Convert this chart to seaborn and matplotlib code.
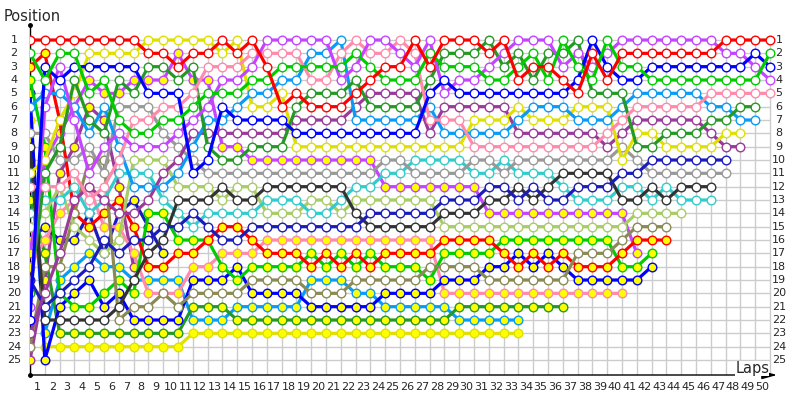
import matplotlib
matplotlib.use("Agg")
import matplotlib.pyplot as plt
import seaborn as sns
import pandas as pd

sns.set_style("white")
plt.rcParams['font.family'] = ['DejaVu Sans']

# race position of each car at every lap (index 0 = starting grid)
red_w = [1, 1, 1, 1, 1, 1, 1, 1, 2, 2, 3,
         2, 2, 1, 2, 1, 3, 6, 5, 6, 6,
         6, 5, 4, 3, 3, 1, 3, 1, 1, 1,
         2, 1, 4, 3, 3, 4, 5, 2, 4, 2,
         2, 2, 2, 2, 2, 2, 1, 1, 1, 1]
lime_w = [2, 4, 2, 2, 5, 4, 7, 8, 8, 7, 7,
          6, 5, 5, 5, 4, 4, 3, 3, 3, 3,
          3, 2, 3, 4, 4, 4, 2, 3, 3, 3,
          4, 4, 3, 2, 4, 1, 3, 4, 1, 3,
          3, 4, 4, 4, 4, 4, 4, 4, 4, 2]
blue_w = [22, 3, 4, 3, 3, 3, 3, 3, 5, 5, 5,
          11, 10, 6, 7, 7, 7, 7, 8, 8, 8,
          8, 8, 8, 8, 8, 8, 5, 4, 5, 5,
          5, 5, 5, 5, 5, 5, 4, 1, 3, 4,
          4, 3, 3, 3, 3, 3, 3, 3, 2, 3]
violet_w = [21, 6, 3, 7, 11, 9, 8, 9, 9, 9, 8,
            7, 6, 4, 4, 3, 1, 1, 1, 1, 1,
            4, 3, 1, 1, 2, 3, 1, 5, 4, 4,
            3, 2, 1, 1, 1, 3, 2, 3, 2, 1,
            1, 1, 1, 1, 1, 1, 2, 2, 3, 4]
pink_w = [12, 12, 12, 11, 13, 12, 10, 7, 7, 6, 6,
          5, 3, 3, 3, 2, 2, 2, 2, 4, 4,
          2, 1, 2, 2, 1, 2, 7, 7, 7, 9,
          9, 9, 9, 9, 9, 9, 9, 9, 8, 7,
          6, 6, 6, 6, 6, 5, 5, 5, 5, 5]
fgreen_w = [20, 11, 9, 4, 7, 8, 4, 5, 3, 3, 4,
            3, 9, 10, 10, 9, 9, 9, 6, 5, 5,
            5, 4, 6, 6, 6, 6, 4, 2, 2, 2,
            1, 3, 2, 4, 2, 2, 1, 5, 5, 5,
            9, 9, 8, 8, 8, 7, 7, 6, 6]
sky_w = [6, 5, 5, 6, 8, 6, 9, 12, 12, 12, 11,
         9, 7, 7, 6, 5, 5, 4, 4, 2, 2,
         1, 7, 7, 7, 7, 7, 6, 8, 8, 8,
         8, 8, 7, 6, 6, 6, 7, 7, 7, 6,
         5, 5, 5, 5, 5, 6, 6, 7, 7]
yellow_w = [11, 10, 7, 5, 2, 2, 2, 2, 1, 1, 1,
            1, 1, 2, 1, 6, 6, 5, 9, 9, 9,
            9, 9, 9, 9, 9, 9, 9, 9, 9, 7,
            7, 7, 6, 7, 7, 7, 6, 6, 6, 10,
            8, 8, 9, 9, 9, 9, 8, 8]
purple_w = [23, 20, 17, 13, 12, 13, 14, 14, 13, 11, 10,
            8, 8, 8, 8, 8, 8, 8, 7, 7, 7,
            7, 6, 5, 5, 5, 5, 8, 6, 6, 6,
            6, 6, 8, 8, 8, 8, 8, 8, 9, 8,
            7, 7, 7, 7, 7, 8, 9, 9]
navy_w = [19, 21, 20, 19, 18, 16, 17, 16, 16, 15, 15,
          14, 15, 16, 16, 15, 15, 15, 15, 15, 15,
          15, 15, 14, 14, 14, 14, 14, 13, 13, 13,
          12, 12, 13, 12, 13, 13, 12, 12, 12, 11,
          11, 10, 10, 10, 10, 10, 10]
gray_w = [8, 8, 10, 10, 9, 11, 6, 6, 6, 8, 9,
          10, 11, 11, 11, 11, 11, 11, 11, 11, 11,
          11, 11, 11, 10, 10, 11, 11, 11, 11, 10,
          10, 11, 10, 10, 10, 10, 10, 10, 10, 9,
          10, 11, 11, 11, 11, 11, 11]
dark_w = [9, 22, 22, 22, 22, 22, 21, 19, 17, 16, 13,
          13, 13, 12, 13, 13, 12, 12, 12, 12, 12,
          12, 14, 15, 15, 15, 15, 15, 14, 14, 14,
          13, 13, 12, 13, 12, 11, 11, 11, 11, 13,
          13, 12, 13, 12, 12, 12]
cyan_w = [14, 13, 13, 12, 14, 13, 11, 11, 11, 13, 14,
          15, 14, 14, 14, 14, 13, 13, 13, 14, 14,
          13, 12, 12, 11, 11, 10, 10, 10, 10, 11,
          11, 10, 11, 11, 11, 12, 13, 13, 13, 12,
          12, 13, 12, 13, 13, 13]
lgreen_w = [15, 14, 12, 15, 16, 17, 16, 10, 10, 10, 12,
            12, 12, 13, 12, 12, 14, 14, 14, 13, 13,
            14, 13, 13, 13, 13, 13, 13, 15, 15, 15,
            15, 15, 15, 15, 15, 15, 15, 15, 15, 15,
            14, 14, 14, 14]
olive_w = [24, 18, 18, 14, 10, 10, 22, 21, 21, 20, 21,
           20, 20, 20, 20, 19, 19, 19, 19, 20, 20,
           20, 19, 19, 19, 19, 19, 18, 18, 18, 18,
           19, 19, 19, 19, 19, 19, 17, 17, 17, 16,
           15, 15, 15]
red_y = [3, 2, 7, 14, 15, 14, 13, 15, 18, 18, 17,
         17, 16, 15, 15, 16, 17, 17, 17, 18, 17,
         18, 17, 18, 17, 17, 17, 17, 16, 16, 16,
         16, 17, 18, 17, 18, 17, 18, 18, 18, 17,
         16, 16, 16]
lime_y = [4, 9, 20, 21, 21, 20, 19, 20, 14, 14, 16,
          16, 16, 18, 19, 18, 18, 18, 18, 17, 18,
          17, 18, 17, 18, 18, 18, 19, 17, 17, 17,
          17, 16, 16, 16, 16, 16, 16, 16, 16, 18,
          18, 17]
blue_y = [5, 25, 21, 20, 19, 21, 20, 22, 22, 22, 22,
          19, 19, 19, 18, 20, 20, 20, 20, 21, 21,
          21, 21, 21, 20, 20, 20, 20, 19, 19, 19,
          18, 18, 17, 18, 17, 18, 19, 19, 19, 19,
          19, 18]
violet_y = [17, 10, 8, 6, 4, 5, 5, 4, 4, 4, 2,
            4, 4, 9, 9, 10, 10, 10, 10, 10, 10,
            10, 10, 10, 12, 12, 12, 12, 12, 12, 12,
            14, 14, 14, 14, 14, 14, 14, 14, 14, 14,
            17]
pink_y = [18, 16, 14, 13, 12, 15, 15, 17, 20, 20, 20,
          18, 18, 17, 17, 17, 16, 16, 16, 16, 16,
          16, 16, 16, 16, 16, 16, 16, 20, 20, 20,
          20, 20, 20, 20, 20, 20, 20, 20, 20, 20]
fgreen_y = [13, 17, 23, 23, 23, 23, 23, 23, 23, 23, 23,
            21, 21, 21, 22, 22, 22, 22, 22, 22, 22,
            22, 22, 22, 22, 22, 22, 22, 22, 21, 21,
            21, 21, 21, 21, 21, 21]
sky_y = [10, 23, 19, 18, 17, 18, 18, 19, 19, 19, 19,
         22, 22, 22, 21, 21, 21, 21, 21, 19, 19,
         19, 20, 20, 21, 21, 21, 21, 21, 22, 22,
         22, 22, 22]
yellow_y = [7, 24, 24, 24, 24, 24, 24, 24, 24, 24, 24,
            23, 23, 23, 23, 23, 23, 23, 23, 23, 23,
            23, 23, 23, 23, 23, 23, 23, 23, 23, 23,
            23, 23, 23]
navy_y = [16, 15, 16, 16, 14, 17, 14, 13, 15, 17]
purple_y = [25, 19, 11, 9, 6, 7, 12, 18]

lap_labels = [str(n) for n in range(1, 51)]
position_labels = [str(n) for n in range(1, 26)]

# (positions, line colour, marker fill) - drawn back to front
cars = [
    (purple_y, "#9a3a9a", "#ffff00"), (navy_y, "#1c1cb8", "#ffff00"),
    (yellow_y, "#e0e000", "#ffff00"), (sky_y, "#0a9cf5", "#ffff00"),
    (fgreen_y, "#259925", "#ffff00"), (pink_y, "#ff8aac", "#ffff00"),
    (violet_y, "#c444ff", "#ffff00"), (blue_y, "#0000ff", "#ffff00"),
    (lime_y, "#00cc00", "#ffff00"), (red_y, "#ff0000", "#ffff00"),
    (olive_w, "#8a8a55", "white"), (lgreen_w, "#a8cc66", "white"),
    (cyan_w, "#33cccc", "white"), (dark_w, "#333333", "white"),
    (gray_w, "#999999", "white"), (navy_w, "#1c1cb8", "white"),
    (purple_w, "#9a3a9a", "white"), (yellow_w, "#e0e000", "white"),
    (sky_w, "#0a9cf5", "white"), (fgreen_w, "#259925", "white"),
    (pink_w, "#ff8aac", "white"), (violet_w, "#c444ff", "white"),
    (blue_w, "#0000ff", "white"), (lime_w, "#00cc00", "white"),
    (red_w, "#ff0000", "white"),
]

fig = plt.figure(figsize=(8, 4), dpi=100)
ax = fig.add_axes([30 / 800, 25 / 400, 747 / 800, 350 / 400])
ax.set_xlim(0, 50.47)
ax.set_ylim(26.125, -0.125)
for s in ax.spines.values():
    s.set_visible(False)

# grid
ax.vlines(range(0, 51), 1, 26.125, color="#cccccc", lw=1, zorder=0)
ax.hlines(range(1, 26), 0, 50, color="#cccccc", lw=1, zorder=0)

for z, (pos, col, fill) in enumerate(cars):
    df = pd.DataFrame({"lap": range(len(pos)), "pos": pos})
    sns.lineplot(data=df, x="lap", y="pos", ax=ax, color=col, linewidth=2.3,
                 marker="o", markersize=6.2, markerfacecolor=fill,
                 markeredgecolor=col, markeredgewidth=1.0, legend=False,
                 zorder=2 + z)

# axes with arrow
ax.plot([0, 0], [26.125, -0.125], color="black", lw=1, clip_on=False, zorder=1)
ax.plot([0, 0], [-0.125, 26.125], "o", color="black", ms=2.5, clip_on=False)
ax.annotate("", xy=(50.47, 26.125), xytext=(0, 26.125),
            arrowprops=dict(arrowstyle="-|>,head_length=0.9,head_width=0.25",
                            color="black", lw=1, shrinkA=0, shrinkB=0),
            annotation_clip=False)

ax.set_xticks([n - 0.5 for n in range(1, 51)])
ax.set_xticklabels(lap_labels)
ax.tick_params(axis="x", length=0, pad=5, labelsize=8)
ax.set_yticks([])
ax.set_xlabel("")
ax.set_ylabel("")

for i, lab in enumerate(position_labels):
    ax.text(-1.08, i + 1, lab, ha="center", va="center", fontsize=8, clip_on=False)
    ax.text(50.6, i + 1, lab, ha="center", va="center", fontsize=8, clip_on=False)

fig.text(4 / 800, 1 - 21 / 400, "Position", fontsize=10.5, ha="left", va="baseline")
ax.text(49.95, 25.95, "Laps", fontsize=10.5, ha="right", va="baseline",
        bbox=dict(facecolor="white", edgecolor="none", pad=0), zorder=50)

fig.savefig("out.png", dpi=100)
